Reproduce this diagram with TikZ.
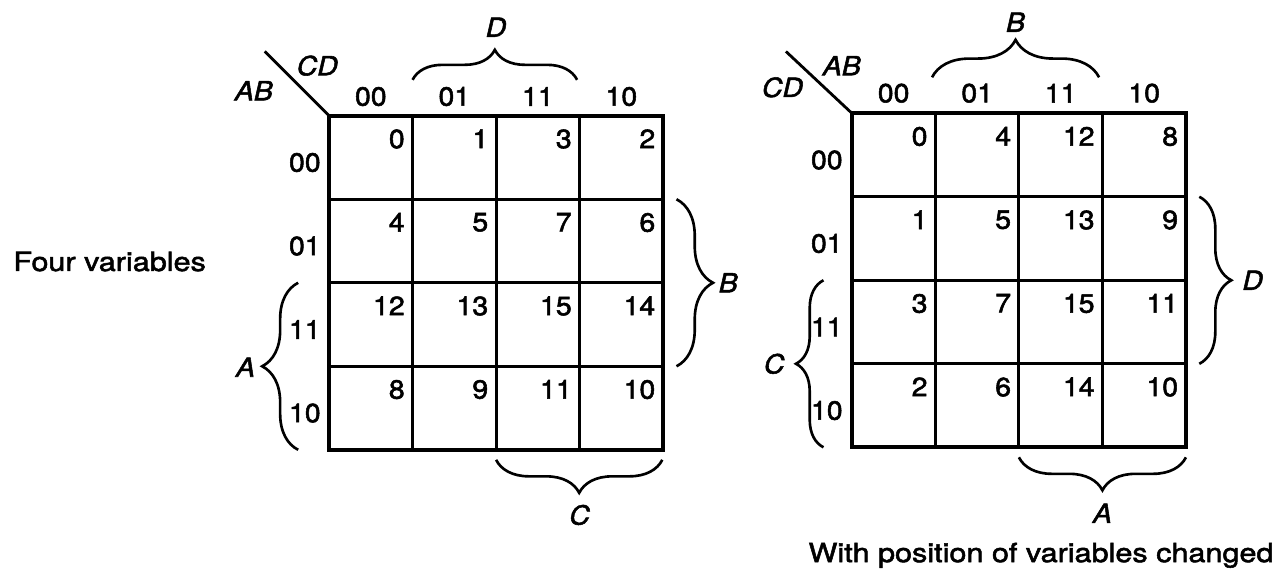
\documentclass[tikz,border=0pt]{standalone}
\usepackage{fontspec}
\setmainfont{TeX Gyre Heros}[FakeStretch=1.08, FakeBold=2]
\newfontfamily\widetext{TeX Gyre Heros}[FakeStretch=1.16, FakeBold=2]
\usepackage{tikz}
\usetikzlibrary{decorations.pathreplacing}

\tikzset{
  cellnum/.style={anchor=north east, inner sep=0pt},
  code/.style={inner sep=0pt},
  varname/.style={inner sep=0pt, font=\fontsize{15}{17}\selectfont\itshape},
  kbrace/.style={decorate, decoration={brace, amplitude=#1}, line width=1.5pt},
  gridline/.style={line width=1.8pt, step={(1,1)}},
}

\begin{document}
\begin{tikzpicture}[x=1.67cm, y=1.67cm, font=\fontsize{15}{17}\selectfont]
    \useasboundingbox (0,0) rectangle (15.41,6.886);

    % Caption on the left
    \node[anchor=west, inner sep=0pt, font=\fontsize{15}{17}\selectfont\widetext] (fourvar) at (0.156,3.754) {Four variables};

    % Left map: AB on the rows, CD on the columns
    \begin{scope}[shift={(3.94,1.5)}]
        \draw[gridline] (0,0) grid (4,4);
        \draw[line width=2.2pt] (0,0) rectangle (4,4);
        \draw[line width=1.6pt] (0,4) -- (-0.77,4.77);
        \node[varname] (lrowvar) at (-0.90,4.30) {AB};
        \node[varname] (lcolvar) at (-0.14,4.60) {CD};

        % Gray codes along the top and the left side
        \foreach \h [count=\i from 0] in {00,01,11,10} {
            \node[code] (ltop\i) at (\i+0.5,4.23) {\h};
            \node[code] (lside\i) at (-0.29,3.44-\i) {\h};
        }

        % Minterm numbers in the cells
        \foreach \n [count=\k from 0] in {0,1,3,2,4,5,7,6,12,13,15,14,8,9,11,10} {
            \pgfmathtruncatemacro\kcol{mod(\k,4)}
            \pgfmathtruncatemacro\krow{int(\k/4)}
            \node[cellnum] (lcell\n) at (\kcol+0.91,3.84-\krow) {\n};
        }

        % Variable braces
        \draw[kbrace=0.6cm] (1,4.43) -- (2.97,4.43);
        \node[varname] (lD) at (2,5.06) {D};
        \draw[kbrace=0.73cm] (4.16,3) -- (4.16,1);
        \node[varname] (lB) at (4.78,2) {B};
        \draw[kbrace=0.72cm] (-0.37,0) -- (-0.37,2);
        \node[varname] (lA) at (-1.0,0.99) {A};
        \draw[kbrace=0.66cm] (3.99,-0.12) -- (2,-0.12);
        \node[varname] (lC) at (3,-0.78) {C};
    \end{scope}

    % Right map: CD on the rows, AB on the columns
    \begin{scope}[shift={(10.2,1.53)}]
        \draw[gridline] (0,0) grid (4,4);
        \draw[line width=2.2pt] (0,0) rectangle (4,4);
        \draw[line width=1.6pt] (0,4) -- (-0.79,4.74);
        \node[varname] (rrowvar) at (-0.83,4.31) {CD};
        \node[varname] (rcolvar) at (-0.12,4.57) {AB};

        % Gray codes along the top and the left side
        \foreach \h [count=\i from 0] in {00,01,11,10} {
            \node[code] (rtop\i) at (\i+0.5,4.24) {\h};
            \node[code] (rside\i) at (-0.30,3.44-\i) {\h};
        }

        % Minterm numbers in the cells
        \foreach \n [count=\k from 0] in {0,4,12,8,1,5,13,9,3,7,15,11,2,6,14,10} {
            \pgfmathtruncatemacro\kcol{mod(\k,4)}
            \pgfmathtruncatemacro\krow{int(\k/4)}
            \node[cellnum] (rcell\n) at (\kcol+0.91,3.84-\krow) {\n};
        }

        % Variable braces
        \draw[kbrace=0.75cm] (0.96,4.43) -- (2.96,4.43);
        \node[varname] (rB) at (1.96,5.09) {B};
        \draw[kbrace=0.64cm] (4.16,3) -- (4.16,1);
        \node[varname] (rD) at (4.80,2) {D};
        \draw[kbrace=0.55cm] (-0.34,0) -- (-0.34,2);
        \node[varname] (rC) at (-0.93,1) {C};
        \draw[kbrace=0.66cm] (4,-0.12) -- (2,-0.12);
        \node[varname] (rA) at (3,-0.79) {A};
    \end{scope}

    % Caption under the right map
    \node[anchor=base west, inner sep=0pt, font=\fontsize{15}{17}\selectfont\widetext] (changed) at (9.677,0.156) {With position of variables changed};

\end{tikzpicture}
\end{document}
